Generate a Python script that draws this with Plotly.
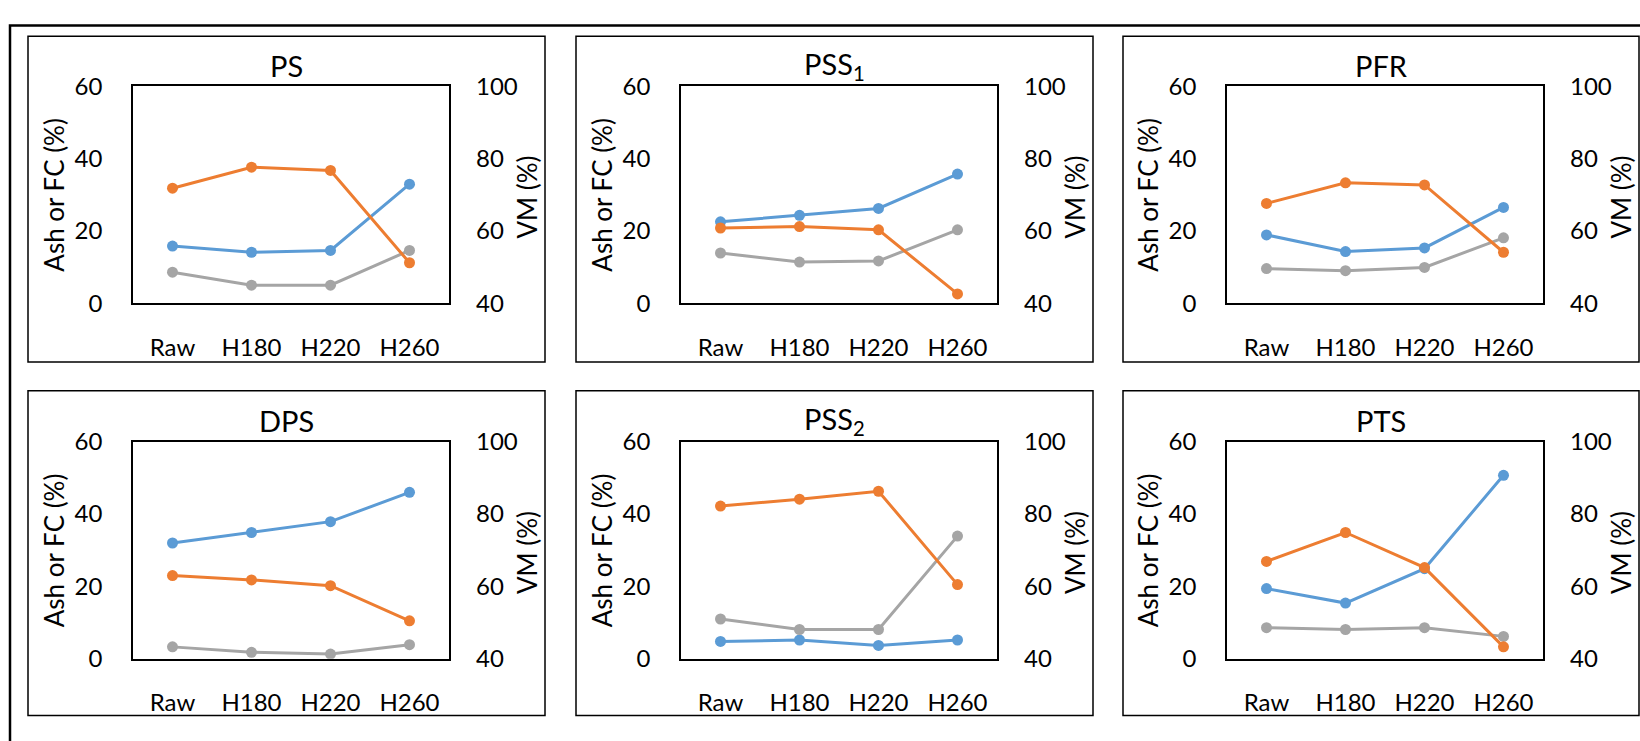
import plotly.graph_objects as go

# ---- data -------------------------------------------------------------
categories = ["Raw", "H180", "H220", "H260"]
samples = ["PS", "PSS<sub>1</sub>", "PFR", "DPS", "PSS<sub>2</sub>", "PTS"]

# fixed carbon (%), left axis
fc = [
    [15.8, 14.1, 14.6, 32.9],
    [22.5, 24.3, 26.2, 35.7],
    [18.9, 14.3, 15.3, 26.5],
    [32.0, 34.9, 37.9, 46.0],
    [4.8, 5.2, 3.7, 5.2],
    [19.4, 15.4, 24.9, 50.7],
]
# ash (%), left axis
ash = [
    [8.6, 5.0, 5.0, 14.6],
    [13.9, 11.4, 11.7, 20.3],
    [9.6, 9.0, 9.9, 18.1],
    [3.3, 1.8, 1.3, 3.9],
    [11.0, 8.1, 8.1, 33.9],
    [8.6, 8.1, 8.6, 6.2],
]
# volatile matter (%), right axis
vm = [
    [71.8, 77.6, 76.7, 51.2],
    [60.8, 61.2, 60.3, 42.6],
    [67.6, 73.3, 72.7, 54.1],
    [63.0, 61.8, 60.2, 50.5],
    [82.2, 84.1, 86.3, 60.5],
    [66.9, 74.9, 65.2, 43.3],
]
left_ticks = [0, 20, 40, 60]
right_ticks = [40, 60, 80, 100]

# ---- page geometry (pixels) -------------------------------------------
W, H = 1640, 741
FONT = "Lato"
BLUE, ORANGE, GRAY = "#5B9BD5", "#ED7D31", "#A5A5A5"

plot_cols = [(133, 449), (681, 997), (1227, 1543)]
plot_rows = [(73, 299), (443, 669)]
panel_cols = [(28, 545), (576, 1093), (1123, 1639)]
panel_rows = [(21, 360), (390, 728)]


def px(x):
    return x / W


def py(y):
    return 1 - y / H


fig = go.Figure()
layout = dict(
    width=W, height=H,
    margin=dict(l=0, r=0, t=0, b=0),
    paper_bgcolor="white", plot_bgcolor="white",
    showlegend=False,
    font=dict(family=FONT, size=24, color="black"),
)
shapes = []
annotations = []

# outer frame
shapes.append(dict(type="rect", xref="paper", yref="paper",
                   x0=px(10), x1=px(1650), y0=py(10), y1=py(760),
                   line=dict(color="black", width=2.5), fillcolor="rgba(0,0,0,0)"))

line_style = dict(width=3)
for i, name in enumerate(samples):
    r, c = divmod(i, 3)
    x0, x1 = plot_cols[c]
    y0, y1 = plot_rows[r]
    xa = f"x{i + 1}"
    yl = f"y{2 * i + 1}"
    yr = f"y{2 * i + 2}"

    # panel border
    pc0, pc1 = panel_cols[c]
    pr0, pr1 = panel_rows[r]
    shapes.append(dict(type="rect", xref="paper", yref="paper",
                       x0=px(pc0), x1=px(pc1), y0=py(pr0), y1=py(pr1),
                       line=dict(color="black", width=1.5),
                       fillcolor="rgba(0,0,0,0)", layer="below"))

    layout[f"xaxis{i + 1}"] = dict(
        domain=[px(x0), px(x1)], anchor=yl, type="category",
        categoryorder="array", categoryarray=categories,
        range=[-0.5, 3.5], showgrid=False, zeroline=False,
        showline=True, mirror=True, linecolor="black", linewidth=1.5,
        ticks="", ticklabelstandoff=22,
        tickfont=dict(family=FONT, size=24, color="black"),
    )
    layout[f"yaxis{2 * i + 1}"] = dict(
        domain=[py(y1), py(y0)], anchor=xa, range=[0, 60],
        tickvals=left_ticks, showgrid=False, zeroline=False,
        showline=True, mirror=True, linecolor="black", linewidth=1.5,
        ticks="", ticklabelstandoff=24,
        tickfont=dict(family=FONT, size=24, color="black"),
    )
    layout[f"yaxis{2 * i + 2}"] = dict(
        overlaying=yl, side="right", anchor=xa, range=[40, 100],
        tickvals=right_ticks, showgrid=False, zeroline=False,
        showline=False, ticks="", ticklabelstandoff=26,
        tickfont=dict(family=FONT, size=24, color="black"),
    )

    fig.add_trace(go.Scatter(x=categories, y=fc[i], xaxis=xa, yaxis=yl,
                             mode="lines+markers", line=dict(color=BLUE, **line_style),
                             marker=dict(size=11, color=BLUE), name="FC"))
    fig.add_trace(go.Scatter(x=categories, y=ash[i], xaxis=xa, yaxis=yl,
                             mode="lines+markers", line=dict(color=GRAY, **line_style),
                             marker=dict(size=11, color=GRAY), name="Ash"))
    fig.add_trace(go.Scatter(x=categories, y=vm[i], xaxis=xa, yaxis=yr,
                             mode="lines+markers", line=dict(color=ORANGE, **line_style),
                             marker=dict(size=11, color=ORANGE), name="VM"))

    # panel title
    annotations.append(dict(text=name, xref="paper", yref="paper",
                            x=px((pc0 + pc1) / 2), y=py(pr0 + 31),
                            xanchor="center", yanchor="middle", showarrow=False,
                            font=dict(family=FONT, size=29, color="black")))
    # axis titles
    ymid = (y0 + y1) / 2
    annotations.append(dict(text="Ash or FC (%)", xref="paper", yref="paper",
                            x=px(x0 - 79), y=py(ymid), textangle=-90,
                            xanchor="center", yanchor="middle", showarrow=False,
                            font=dict(family=FONT, size=26, color="black")))
    annotations.append(dict(text="VM (%)", xref="paper", yref="paper",
                            x=px(x1 + 78), y=py(ymid + 3), textangle=-90,
                            xanchor="center", yanchor="middle", showarrow=False,
                            font=dict(family=FONT, size=26, color="black")))

layout["shapes"] = shapes
layout["annotations"] = annotations
fig.update_layout(**layout)
fig.write_html("out.html")
